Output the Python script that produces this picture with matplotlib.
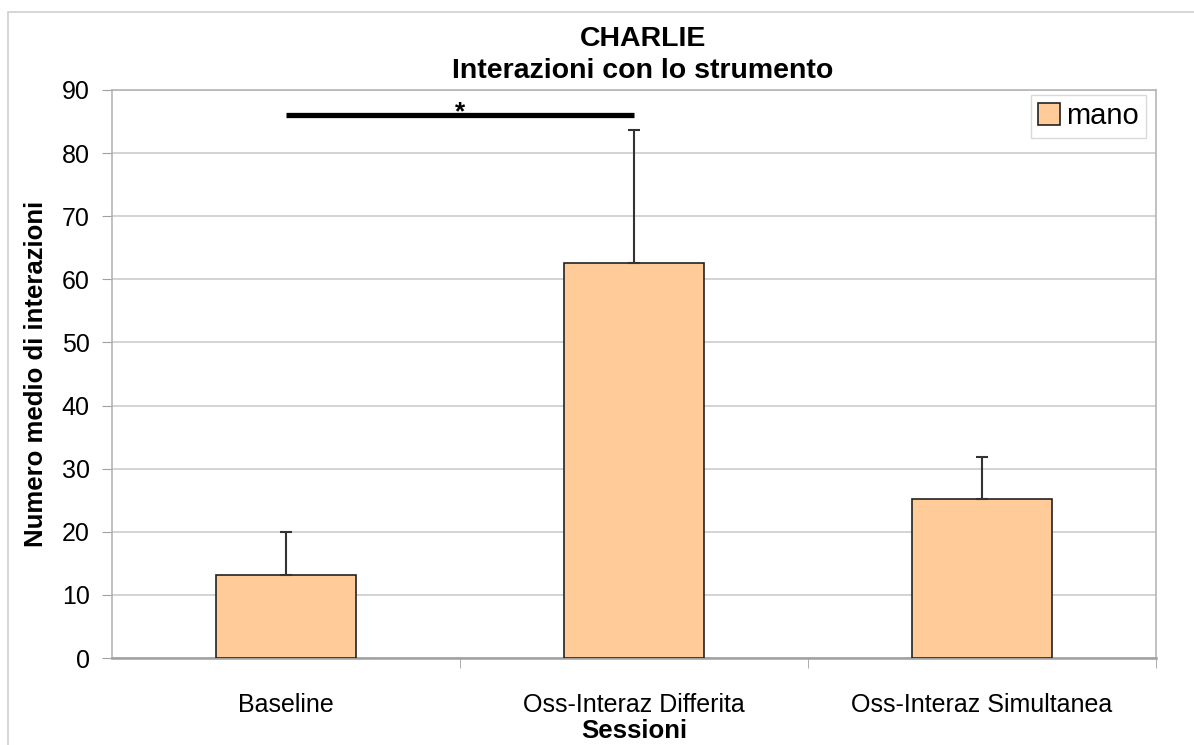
import matplotlib
matplotlib.use("Agg")
import matplotlib.pyplot as plt
from matplotlib.patches import Rectangle

plt.rcParams["font.family"] = ["Liberation Sans", "DejaVu Sans"]

sessions = ["Baseline", "Oss-Interaz Differita", "Oss-Interaz Simultanea"]
mano = [13.2, 62.6, 25.2]
mano_err = [6.8, 21.1, 6.6]
sig_pair = (0, 1)
sig_y = 86

fig = plt.figure(figsize=(11.94, 7.45), dpi=100)
fig.patches.append(Rectangle((8 / 1194, -0.1), 1.2, 1 - 12 / 745 + 0.1,
                             transform=fig.transFigure, fill=False,
                             edgecolor="#d0d0d0", linewidth=1.2))
ax = fig.add_axes([112 / 1194, 1 - 658 / 745, 1044 / 1194, 568 / 745])

x = range(len(sessions))
ax.bar(x, mano, width=0.4, color="#ffcc99", edgecolor="#222222",
       linewidth=1.2, label="mano", zorder=3)
ax.errorbar(x, mano, yerr=[[0] * len(mano), mano_err], fmt="none",
            ecolor="#333333", elinewidth=1.5, capsize=4, capthick=1.5, zorder=4)

# significance bar between Baseline and Differita
ax.plot(sig_pair, [sig_y, sig_y], color="black", linewidth=3.8,
        solid_capstyle="butt", zorder=5)
ax.text(sum(sig_pair) / 2, sig_y - 0.7, "*", ha="center", va="baseline",
        fontsize=19, fontweight="bold")

ax.set_xlim(-0.5, 2.5)
ax.set_ylim(0, 90)
ax.set_yticks(range(0, 91, 10))
ax.set_xticks(x)
ax.set_xticklabels(sessions, fontsize=18)
ax.set_xticks([0.5, 1.5, 2.5], minor=True)
ax.tick_params(axis="x", which="major", length=0, pad=25)
ax.tick_params(axis="x", which="minor", length=7, color="#a0a0a0")
ax.tick_params(axis="y", labelsize=18, length=7, color="#a0a0a0", pad=9)
ax.grid(axis="y", color="#c8c8c8", linewidth=1.1, zorder=0)
for side in ax.spines.values():
    side.set_color("#b0b0b0")
    side.set_linewidth(1.1)
ax.spines["bottom"].set_color("#a0a0a0")
ax.spines["bottom"].set_linewidth(1.8)

ax.set_xlabel("Sessioni", fontsize=18.5, fontweight="bold", labelpad=2)
ax.set_ylabel("Numero medio di interazioni", fontsize=18.5, fontweight="bold",
              labelpad=10)
fig.text(0.5 + 46 / 1194, 1 - 55 / 745, "CHARLIE\nInterazioni con lo strumento",
         ha="center", va="center", fontsize=20.5, fontweight="bold",
         linespacing=1.35)

leg = ax.legend(loc="upper right", bbox_to_anchor=(1146 / 1194, 1 - 95 / 745),
                bbox_transform=fig.transFigure, fontsize=21, frameon=True,
                fancybox=False, handlelength=0.75, handleheight=0.75,
                handletextpad=0.2, borderpad=0.25, borderaxespad=0)
leg.get_frame().set_edgecolor("#d0d0d0")
leg.get_frame().set_linewidth(1.0)

fig.savefig("out.png", dpi=100)
